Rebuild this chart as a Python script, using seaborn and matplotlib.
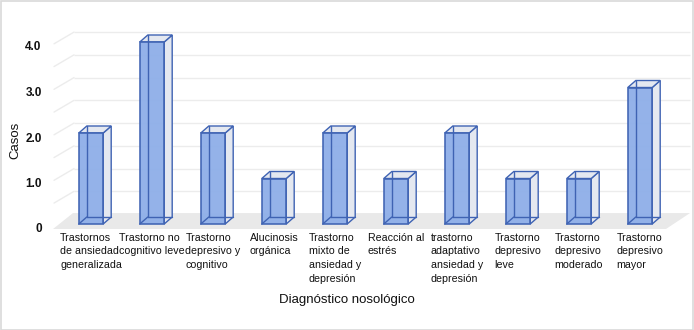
import matplotlib
matplotlib.use("Agg")
import matplotlib.pyplot as plt
from matplotlib.patches import Polygon, Rectangle
from matplotlib.transforms import ScaledTranslation
import seaborn as sns
import pandas as pd
import numpy as np

categories = [
    "Trastornos\nde ansiedad\ngeneralizada",
    "Trastorno no\ncognitivo leve",
    "Trastorno\ndepresivo y\ncognitivo",
    "Alucinosis\norgánica",
    "Trastorno\nmixto de\nansiedad y\ndepresión",
    "Reacción al\nestrés",
    "trastorno\nadaptativo\nansiedad y\ndepresión",
    "Trastorno\ndepresivo\nleve",
    "Trastorno\ndepresivo\nmoderado",
    "Trastorno\ndepresivo\nmayor",
]
casos = [2, 4, 2, 1, 2, 1, 2, 1, 1, 3]
ytick_values = [0, 1, 2, 3, 4]
ytick_labels = ["0", "1.0", "2.0", "3.0", "4.0"]
grid_values = [0.5, 1.0, 1.5, 2.0, 2.5, 3.0, 3.5, 4.0]

sns.set_theme(style="white")
plt.rcParams["font.family"] = ["Liberation Sans", "DejaVu Sans"]

W, H = 694, 330
fig = plt.figure(figsize=(W / 100, H / 100), dpi=100)
fig.patch.set_facecolor("white")

# axes geometry in pixels
ax_left, ax_right, ax_top, ax_bottom = 50, 694, 5, 230
ax = fig.add_axes([ax_left / W, (H - ax_bottom) / H,
                   (ax_right - ax_left) / W, (ax_bottom - ax_top) / H])

df = pd.DataFrame({"cat": categories, "casos": casos})

FRONT = "#8eaee8"
EDGE = "#3f63b3"
SIDE = "#e4e8f0"

sns.barplot(data=df, x="cat", y="casos", width=0.4, color=FRONT,
            saturation=1, edgecolor=EDGE, linewidth=1.2, ax=ax, zorder=5)

# pixel -> data scale
px_x = 61.0      # pixels per category
px_y = 45.5      # pixels per unit
zero_px = 224.0
x0_px = 91.0
ax.set_xlim((ax_left - x0_px) / px_x, (ax_right - x0_px) / px_x)
ax.set_ylim((zero_px - ax_bottom) / px_y, (zero_px - ax_top) / px_y)

# 3D depth offsets
bdx, bdy = 8 / px_x, 7 / px_y
wdx, wdy = 20 / px_x, 11 / px_y

# floor
fx0, fx1 = (53 - x0_px) / px_x, (666 - x0_px) / px_x
fy0 = (zero_px - 229) / px_y
floor = Polygon([(fx0, fy0), (fx1, fy0), (fx1 + wdx * 1.2, fy0 + wdy * 1.45),
                 (fx0 + wdx, fy0 + wdy * 1.45)],
                closed=True, facecolor="#e9e9e9", edgecolor="none", zorder=1)
ax.add_patch(floor)

# gridlines: back wall + left side diagonals
gx_front = (54 - x0_px) / px_x
gx_back = gx_front + wdx
gx_end = (690 - x0_px) / px_x
for v in grid_values:
    ax.plot([gx_back, gx_end], [v + wdy * 0.9, v + wdy * 0.9], color="#ececec",
            lw=1.0, zorder=2, solid_capstyle="butt")
    ax.plot([gx_front, gx_back], [v - 0.04, v + wdy * 0.9], color="#ececec",
            lw=1.0, zorder=2)

# 3D faces for each bar from seaborn's patches
for p in list(ax.patches):
    if p is floor:
        continue
    x0 = p.get_x()
    w = p.get_width()
    h = p.get_height()
    p.set_alpha(0.95)
    p.set_zorder(6)
    side = Polygon([(x0 + w, 0), (x0 + w + bdx, bdy), (x0 + w + bdx, h + bdy),
                    (x0 + w, h)], closed=True, facecolor=SIDE,
                   edgecolor=EDGE, lw=1.0, zorder=4)
    top = Polygon([(x0, h), (x0 + bdx, h + bdy), (x0 + w + bdx, h + bdy),
                   (x0 + w, h)], closed=True, facecolor=SIDE,
                  edgecolor=EDGE, lw=1.0, zorder=4)
    ax.add_patch(side)
    ax.add_patch(top)
    # hidden back edges, seen through the translucent front
    ax.plot([x0 + bdx, x0 + bdx], [bdy, h + bdy], color=EDGE, lw=1.0, zorder=7)
    ax.plot([x0 + bdx, x0 + w + bdx], [bdy, bdy], color=EDGE, lw=1.0, zorder=7)
    ax.plot([x0, x0 + bdx], [0, bdy], color=EDGE, lw=1.0, zorder=7)

for s in ax.spines.values():
    s.set_visible(False)
ax.set_facecolor("none")
ax.set_xlabel("")
ax.set_ylabel("")

# y ticks
ax.set_yticks(ytick_values)
ax.set_yticklabels(ytick_labels, fontsize=8.5, fontweight="bold", color="#111111")
ax.tick_params(axis="y", length=0, pad=6)
off = ScaledTranslation(0, -4 / 100, fig.dpi_scale_trans)
for lab in ax.get_yticklabels():
    lab.set_transform(lab.get_transform() + off)

# x ticks
ax.tick_params(axis="x", length=0, pad=2)
for lab in ax.get_xticklabels():
    lab.set_fontsize(7.7)
    lab.set_multialignment("left")
    lab.set_linespacing(1.45)
    lab.set_color("#111111")

fig.text(15 / W, 1 - 140 / H, "Casos", rotation=90, ha="center", va="center",
         fontsize=9.5, color="#111111")
fig.text(347 / W, 1 - 300 / H, "Diagnóstico nosológico", ha="center", va="center",
         fontsize=9.5, color="#111111")

# light border around the image
fig.patches.append(Rectangle((0.5 / W, 0.5 / H), 1 - 1.5 / W, 1 - 1.5 / H,
                             transform=fig.transFigure, fill=False,
                             edgecolor="#d9d9d9", lw=1.2))

fig.savefig("out.png", dpi=100)
